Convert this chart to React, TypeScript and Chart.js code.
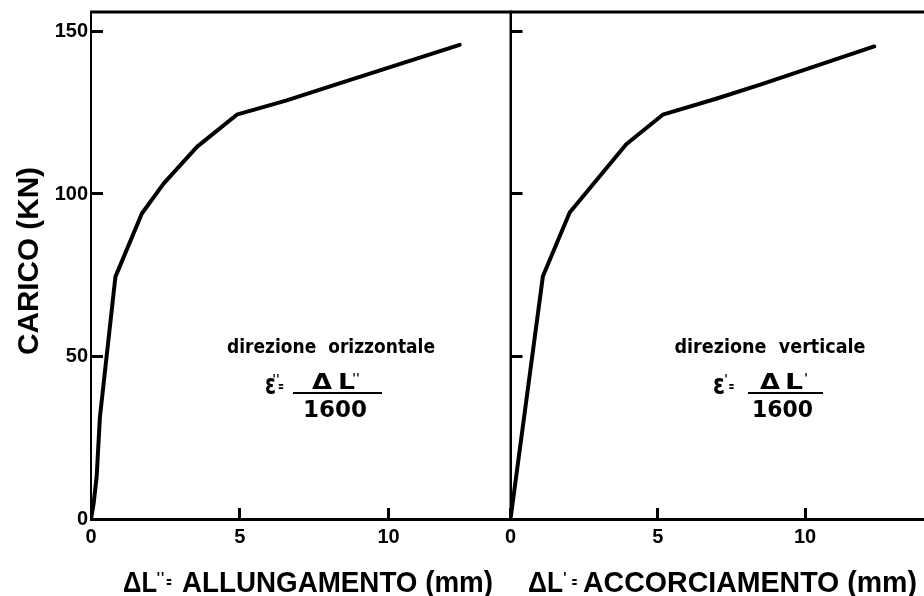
import React, { useEffect, useRef } from 'react';
import { Chart, registerables } from 'chart.js';

Chart.register(...registerables);

// ---- data ----
const horizontalElongation = [0, 0.09, 0.19, 0.3, 0.82, 1.71, 2.44, 3.56, 4.9, 6.58, 8.14, 12.39];
const horizontalLoad = [0, 4.9, 13, 31.4, 74.5, 94, 103.2, 114.5, 124.4, 128.8, 133.4, 145.9];
const verticalShortening = [0, 1.1, 2.01, 3.93, 5.17, 6.98, 8.56, 12.35];
const verticalLoad = [0, 74.7, 94.3, 115.3, 124.4, 129.3, 133.9, 145.4];
const xTickValues = [0, 5, 10];
const xTickLabels = ['0', '5', '10'];
const yTickValues = [0, 50, 100, 150];
const yTickLabels = ['0', '50', '100', '150'];

const yTitle = 'CARICO (KN)';
const leftXTitleMain = 'ALLUNGAMENTO (mm)';
const rightXTitleMain = 'ACCORCIAMENTO (mm)';
const leftNote = 'direzione  orizzontale';
const rightNote = 'direzione  verticale';
const denominator = '1600';

const SANS = '"Liberation Sans", Arial, sans-serif';
const HEAVY = '"DejaVu Sans", "Liberation Sans", sans-serif';

type TextOpts = { width?: number; align?: CanvasTextAlign; rotate?: number; family?: string };

function drawText(ctx: CanvasRenderingContext2D, s: string, x: number, y: number, size: number, o: TextOpts = {}) {
  ctx.save();
  ctx.font = `bold ${size}px ${o.family || HEAVY}`;
  ctx.fillStyle = '#000';
  const nat = ctx.measureText(s).width;
  const sx = o.width ? o.width / nat : 1;
  ctx.translate(x, y);
  if (o.rotate) ctx.rotate(o.rotate);
  ctx.scale(sx, 1);
  ctx.textAlign = o.align || 'center';
  ctx.textBaseline = 'alphabetic';
  ctx.fillText(s, 0, 0);
  ctx.restore();
}

function leftDecor(ctx: CanvasRenderingContext2D) {
  // y-axis title
  drawText(ctx, yTitle, 38, 261, 29, { width: 188, rotate: -Math.PI / 2, family: SANS });
  // annotation
  drawText(ctx, leftNote, 331, 353, 19, { width: 208 });
  drawText(ctx, 'ε', 270.5, 394, 28, { width: 11 });
  drawText(ctx, "''", 276, 383, 12);
  drawText(ctx, '=', 281, 391, 15, { width: 6 });
  ctx.fillStyle = '#000';
  ctx.fillRect(293, 392, 89, 2);
  drawText(ctx, 'Δ', 322, 389, 22, { width: 20 });
  drawText(ctx, 'L', 346.5, 389, 22, { width: 17 });
  drawText(ctx, "''", 356, 382, 12);
  drawText(ctx, denominator, 335, 417, 23, { width: 64 });
  // x-axis title
  drawText(ctx, 'ΔL', 123, 592, 30, { width: 34, align: 'left', family: SANS });
  drawText(ctx, "''", 160.5, 582, 14);
  drawText(ctx, '=', 169, 588, 17, { width: 6 });
  drawText(ctx, leftXTitleMain, 182, 592, 30, { width: 311, align: 'left', family: SANS });
}

function rightDecor(ctx: CanvasRenderingContext2D) {
  drawText(ctx, rightNote, 770, 353, 19, { width: 191 });
  drawText(ctx, 'ε', 719, 394, 28, { width: 12 });
  drawText(ctx, "'", 726, 383, 12);
  drawText(ctx, '=', 731.5, 391, 15, { width: 6 });
  ctx.fillStyle = '#000';
  ctx.fillRect(748, 392, 75, 2);
  drawText(ctx, 'Δ', 770, 389, 22, { width: 20 });
  drawText(ctx, 'L', 794, 389, 22, { width: 18 });
  drawText(ctx, "'", 806, 382, 12);
  drawText(ctx, denominator, 782.5, 417, 23, { width: 61 });
  drawText(ctx, 'ΔL', 528, 592, 30, { width: 35, align: 'left', family: SANS });
  drawText(ctx, "'", 565, 582, 14);
  drawText(ctx, '=', 574.5, 588, 17, { width: 6 });
  drawText(ctx, rightXTitleMain, 583, 592, 30, { width: 334, align: 'left', family: SANS });
}

function makeChart(
  canvas: HTMLCanvasElement,
  xs: number[],
  ys: number[],
  cfg: { offsetX: number; yAxisWidth: number; padRight: number; xMax: number; showYLabels: boolean; rightBorder: boolean; decor: (c: CanvasRenderingContext2D) => void }
) {
  const framePlugin = {
    id: 'frame' + cfg.offsetX,
    afterDraw(chart: any) {
      const ctx: CanvasRenderingContext2D = chart.ctx;
      const a = chart.chartArea;
      ctx.save();
      ctx.strokeStyle = '#000';
      ctx.lineWidth = 3;
      ctx.beginPath();
      ctx.moveTo(a.left - 1, a.top);
      ctx.lineTo(a.right + 1, a.top);
      ctx.stroke();
      if (cfg.rightBorder) {
        ctx.lineWidth = 2;
        ctx.beginPath();
        ctx.moveTo(a.right, a.top);
        ctx.lineTo(a.right, a.bottom);
        ctx.stroke();
      }
      ctx.translate(-cfg.offsetX, 0);
      cfg.decor(ctx);
      ctx.restore();
    },
  };

  return new Chart(canvas, {
    type: 'scatter',
    data: {
      datasets: [
        {
          data: xs.map((x, i) => ({ x, y: ys[i] })),
          showLine: true,
          borderColor: '#000',
          backgroundColor: '#000',
          borderWidth: 4,
          pointRadius: 0,
          borderCapStyle: 'round',
          borderJoinStyle: 'round',
          fill: false,
        } as any,
      ],
    },
    options: {
      responsive: false,
      animation: false,
      devicePixelRatio: 1,
      layout: { padding: { top: 12, left: 0, right: cfg.padRight, bottom: 0 } },
      plugins: { legend: { display: false }, tooltip: { enabled: false } },
      scales: {
        x: {
          type: 'linear',
          min: 0,
          max: cfg.xMax,
          afterFit: (s: any) => {
            s.height = 77;
            s.paddingLeft = 0;
            s.paddingRight = 0;
          },
          afterBuildTicks: (s: any) => {
            s.ticks = xTickValues.map((v) => ({ value: v }));
          },
          ticks: {
            color: '#000',
            font: { family: SANS, size: 20, weight: 'bold' },
            padding: 17,
            maxRotation: 0,
            autoSkip: false,
            callback: (v: any) => xTickLabels[xTickValues.indexOf(Number(v))] ?? '',
          },
          grid: { display: true, drawOnChartArea: false, drawTicks: true, tickLength: -11, tickWidth: 3, tickColor: '#000' },
          border: { display: true, color: '#000', width: 3 },
        },
        y: {
          type: 'linear',
          min: 0,
          max: 156,
          afterFit: (s: any) => {
            s.width = cfg.yAxisWidth;
            s.paddingTop = 0;
            s.paddingBottom = 0;
          },
          afterBuildTicks: (s: any) => {
            s.ticks = yTickValues.map((v) => ({ value: v }));
          },
          ticks: {
            color: cfg.showYLabels ? '#000' : 'rgba(0,0,0,0)',
            font: { family: SANS, size: 20, weight: 'bold' },
            padding: 15,
            autoSkip: false,
            callback: (v: any) => yTickLabels[yTickValues.indexOf(Number(v))] ?? '',
          },
          grid: { display: true, drawOnChartArea: false, drawTicks: true, tickLength: -12, tickWidth: 3, tickColor: '#000' },
          border: { display: true, color: '#000', width: 2 },
        },
      },
    } as any,
    plugins: [framePlugin],
  });
}

export default function App() {
  const leftRef = useRef<HTMLCanvasElement>(null);
  const rightRef = useRef<HTMLCanvasElement>(null);

  useEffect(() => {
    const left = makeChart(leftRef.current!, horizontalElongation, horizontalLoad, {
      offsetX: 0,
      yAxisWidth: 91,
      padRight: 9.5,
      xMax: 14.1,
      showYLabels: true,
      rightBorder: true,
      decor: leftDecor,
    });
    const right = makeChart(rightRef.current!, verticalShortening, verticalLoad, {
      offsetX: 460,
      yAxisWidth: 50.5,
      padRight: 0,
      xMax: 14.04,
      showYLabels: false,
      rightBorder: false,
      decor: rightDecor,
    });
    return () => {
      left.destroy();
      right.destroy();
    };
  }, []);

  return (
    <div style={{ position: 'absolute', left: 0, top: 0, width: 924, height: 596, background: '#fff', overflow: 'hidden' }}>
      <canvas ref={leftRef} width={520} height={596} style={{ position: 'absolute', left: 0, top: 0 }} />
      <canvas ref={rightRef} width={464} height={596} style={{ position: 'absolute', left: 460, top: 0 }} />
    </div>
  );
}
